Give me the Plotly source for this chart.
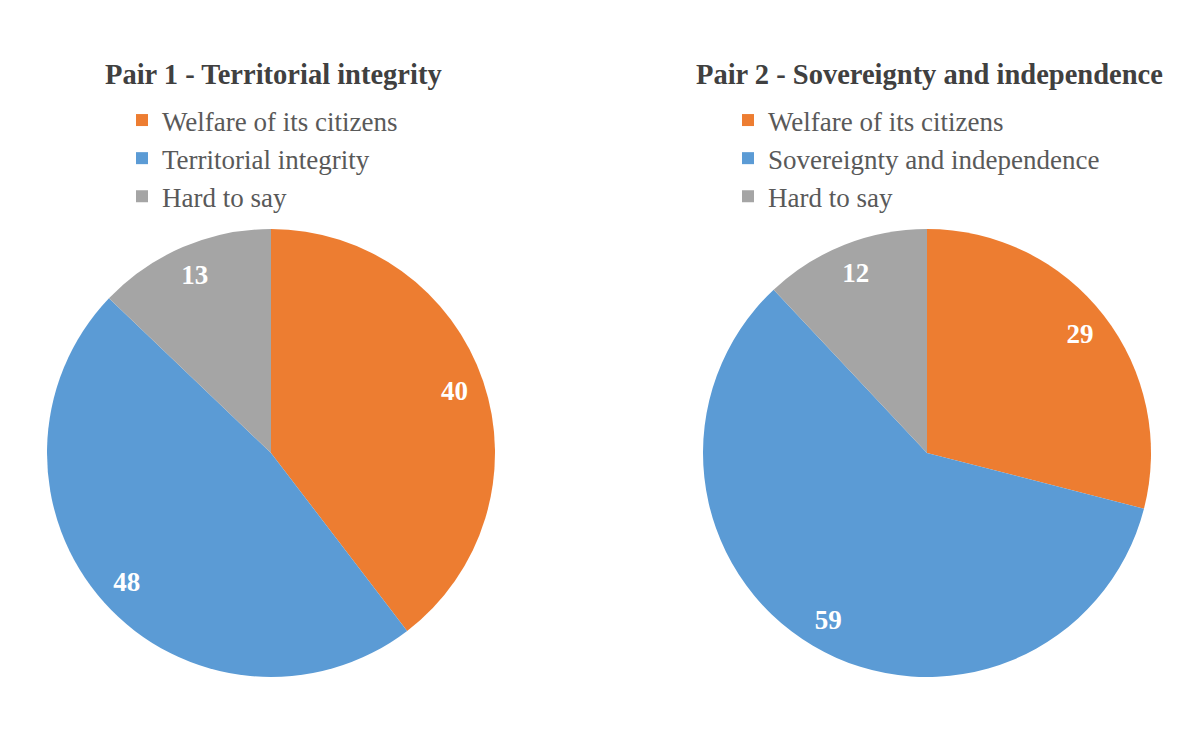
import plotly.graph_objects as go

labels1 = ["Welfare of its citizens", "Territorial integrity", "Hard to say"]
values1 = [40, 48, 13]
labels2 = ["Welfare of its citizens", "Sovereignty and independence", "Hard to say"]
values2 = [29, 59, 12]
titles = ["Pair 1 - Territorial integrity", "Pair 2 - Sovereignty and independence"]
colors = ["#ED7D31", "#5B9BD5", "#A5A5A5"]

W, H = 1200, 730
dom1 = dict(x=[47 / W, 495 / W], y=[1 - 677 / H, 1 - 229 / H])
dom2 = dict(x=[703 / W, 1151 / W], y=[1 - 677 / H, 1 - 229 / H])

SERIF = "Liberation Serif"

# second pie gets an invisible suffix so its legend entries are not merged with the first pie's
labels2_keyed = [l + "\u200b" for l in labels2]

fig = go.Figure()
for labels, values, dom, leg in [(labels1, values1, dom1, "legend"), (labels2_keyed, values2, dom2, "legend2")]:
    fig.add_trace(go.Pie(
        labels=labels, values=values, domain=dom, sort=False, direction="clockwise", rotation=0,
        marker=dict(colors=colors, line=dict(width=0)), textinfo="none", legend=leg,
        hoverinfo="label+value",
    ))
    # value labels, placed near the outer rim via a transparent ring
    fig.add_trace(go.Pie(
        labels=labels, values=values, domain=dom, sort=False, direction="clockwise", rotation=0,
        hole=0.73, marker=dict(colors=["rgba(0,0,0,0)"] * 3, line=dict(width=0)),
        textinfo="value", textposition="inside", insidetextorientation="horizontal",
        insidetextfont=dict(family=SERIF, size=27, color="white", weight="bold"),
        showlegend=False, hoverinfo="skip", legend=leg,
    ))

for t, xc in zip(titles, [273, 929]):
    fig.add_annotation(text=f"<b>{t}</b>", x=xc / W, y=1 - 74 / H, xref="paper", yref="paper",
                       showarrow=False, xanchor="center", yanchor="middle",
                       font=dict(family=SERIF, size=28.5, color="#404040"))

legfont = dict(family=SERIF, size=27, color="#595959")
fig.update_layout(
    width=W, height=H, margin=dict(l=0, r=0, t=0, b=0),
    paper_bgcolor="white", plot_bgcolor="white",
    font=dict(family=SERIF),
    legend=dict(x=122 / W, y=1 - 96 / H, xanchor="left", yanchor="top", font=legfont,
                bgcolor="rgba(0,0,0,0)", traceorder="normal"),
    legend2=dict(x=728 / W, y=1 - 96 / H, xanchor="left", yanchor="top", font=legfont,
                 bgcolor="rgba(0,0,0,0)", traceorder="normal"),
)
fig.write_html("out.html")
